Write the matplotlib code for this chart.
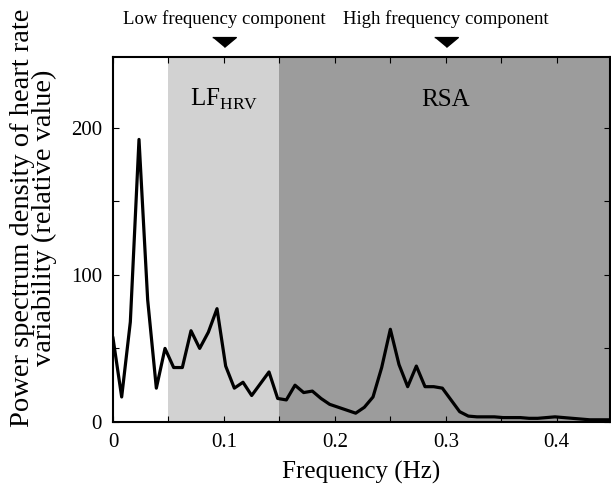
import numpy as np
import matplotlib
matplotlib.use("Agg")
import matplotlib.pyplot as plt

plt.rcParams['font.family'] = ['Liberation Serif', 'DejaVu Serif']
plt.rcParams['mathtext.fontset'] = 'custom'
plt.rcParams['mathtext.rm'] = 'Liberation Serif'

# spectrum sampled every 1/128 Hz
freq_step = 1 / 128
psd = [57, 17, 68, 192, 83, 23, 50, 37, 37, 62, 50, 61, 77, 38, 23, 27, 18, 26,
       34, 16, 15, 25, 20, 21, 16, 12, 10, 8, 6, 10, 17, 37, 63, 39, 24, 38, 24,
       24, 23, 15, 7, 4, 3.5, 3.5, 3.5, 3, 3, 3, 2.5, 2.5, 3, 3.5, 3, 2.5, 2, 1.5,
       1.5, 1.5, 1.5]
freq = np.arange(len(psd)) * freq_step

lf_band = (0.05, 0.15)
hf_band = (0.15, 0.5)
markers_x = [0.1, 0.3]
marker_labels = ["Low frequency component", "High frequency component"]

fig = plt.figure(figsize=(6.11, 4.9), dpi=100)
ax = fig.add_axes([113/611, 1 - 422/490, (610-113)/611, (422-57)/490])

ax.axvspan(*lf_band, color='#d2d2d2', lw=0)
ax.axvspan(*hf_band, color='#9c9c9c', lw=0)
ax.plot(freq, psd, color='black', lw=2.3)

ax.set_xlim(0, 0.448)
ax.set_ylim(0, 248)
ax.set_xticks(np.arange(0, 0.45, 0.05))
ax.set_xticklabels(['0' if i == 0 else ('%.1f' % v if i % 2 == 0 else '')
                    for i, v in enumerate(np.arange(0, 0.45, 0.05))])
ax.set_yticks(np.arange(0, 250, 50))
ax.set_yticklabels(['0', '', '100', '', '200'])
ax.tick_params(direction='in', top=True, right=True, length=4, labelsize=15, pad=8)
for s in ax.spines.values():
    s.set_linewidth(1.5)

ax.set_xlabel("Frequency (Hz)", fontsize=18, labelpad=6)
ax.set_ylabel("Power spectrum density of heart rate\nvariability (relative value)",
              fontsize=20.5, linespacing=0.85)
ax.yaxis.set_label_coords(-0.113, 0.56)

ax.text(0.1, 219, r"LF$_{\mathrm{HRV}}$", ha='center', va='center', fontsize=18)
ax.text(0.3, 219, "RSA", ha='center', va='center', fontsize=18)

tri = [(-1.2, 0.5), (1.2, 0.5), (0, -0.5)]
ax.plot(markers_x, [258, 258], marker=tri, ls='none', color='black', ms=17,
        clip_on=False)
for x, lab in zip(markers_x, marker_labels):
    ax.text(x, 274, lab, ha='center', va='center', fontsize=13.5, clip_on=False)

fig.savefig("out.png", dpi=100)
